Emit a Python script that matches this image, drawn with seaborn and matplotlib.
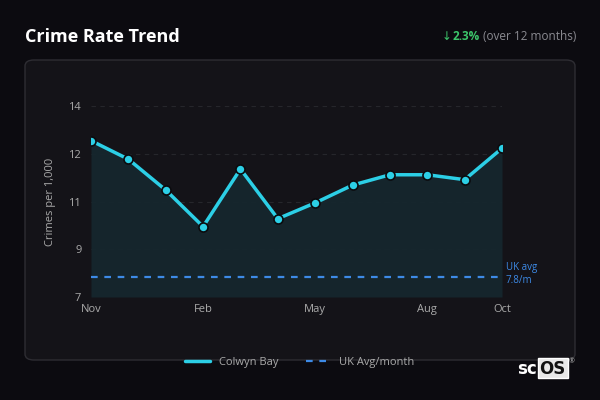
import numpy as np
import pandas as pd
import seaborn as sns
import matplotlib.pyplot as plt
from matplotlib.patches import FancyBboxPatch, Rectangle
from matplotlib.lines import Line2D

months = ["Nov", "Dec", "Jan", "Feb", "Mar", "Apr", "May", "Jun", "Jul", "Aug", "Sep", "Oct"]
colwyn_bay = [12.73, 12.05, 10.92, 9.58, 11.69, 9.87, 10.45, 11.10, 11.48, 11.48, 11.30, 12.45]
uk_avg = 7.75
tick_months = ["Nov", "Feb", "May", "Aug", "Oct"]
y_ticks = [7, 8.75, 10.5, 12.25, 14]

df = pd.DataFrame({"idx": range(len(months)), "month": months, "rate": colwyn_bay})

sns.set_style("dark")
plt.rcParams['font.family'] = ['Open Sans', 'DejaVu Sans']

bg = "#0c0b10"
panel = "#141318"
cyan = "#2ccfe6"
blue = "#3d8ae6"

fig = plt.figure(figsize=(6, 4), dpi=100, facecolor=bg)

# panel card
card = FancyBboxPatch((25 / 600, 40 / 400), 550 / 600, 300 / 400,
                      boxstyle="round,pad=0,rounding_size=0.015",
                      transform=fig.transFigure, facecolor=panel,
                      edgecolor="#2e2d33", linewidth=1, zorder=-5)
fig.patches.append(card)

ax = fig.add_axes([91 / 600, 103 / 400, 411 / 600, 191 / 400])
ax.set_facecolor("none")
ax.set_zorder(2)

ax.fill_between(df["idx"], df["rate"], 7, color="#16272e", alpha=0.95, zorder=1, linewidth=0)
sns.lineplot(data=df, x="idx", y="rate", ax=ax, color=cyan, linewidth=2.5,
             marker="o", markersize=6.5, markeredgecolor="#0b0b0e", markeredgewidth=1.2,
             zorder=3)
ax.axhline(uk_avg, color=blue, linestyle=(0, (3, 3)), linewidth=1.6, zorder=2)

ax.set_xlim(0, 11)
ax.set_ylim(7, 14)
ax.set_yticks(y_ticks)
ax.set_yticklabels([str(int(v + 0.5)) for v in y_ticks])
ax.set_xticks([months.index(m) for m in tick_months])
ax.set_xticklabels(tick_months)
ax.grid(axis="y", color="#26262b", linestyle=(0, (4, 4)), linewidth=0.8)
ax.grid(axis="x", visible=False)
ax.tick_params(axis="y", colors="#aaaaaa", labelsize=8, length=4, width=0.8, color="#888888", pad=3)
ax.tick_params(axis="x", colors="#aaaaaa", labelsize=8, length=0, pad=5)
for s in ax.spines.values():
    s.set_visible(False)
ax.set_xlabel("")
ax.set_ylabel("Crimes per 1,000", color="#aaaaaa", fontsize=8, labelpad=9)

ax.text(11.1, uk_avg + 0.1, "UK avg\n7.8/m", color=blue, fontsize=7, va="center", ha="left",
        linespacing=1.2)

# header
fig.text(25 / 600, 1 - 37 / 400, "Crime Rate Trend", color="white", fontsize=13,
         fontweight="bold", va="center", ha="left")
t1 = fig.text(576 / 600, 1 - 37 / 400, "(over 12 months)", color="#8a8a90", fontsize=8.5,
              va="center", ha="right")
fig.canvas.draw()
bb = t1.get_window_extent()
t2 = fig.text((bb.x0 - 3) / 600, 1 - 37 / 400, "2.3%", color="#3cc56a", fontsize=8.5,
              fontweight="bold", va="center", ha="right")
fig.canvas.draw()
bb2 = t2.get_window_extent()
fig.text((bb2.x0 - 1) / 600, 1 - 37 / 400, "↓", color="#3cc56a", fontsize=8.5,
         va="center", ha="right", family=["DejaVu Sans"])

# legend
handles = [Line2D([], [], color=cyan, linewidth=2.5),
           Line2D([], [], color=blue, linewidth=1.6, linestyle=(0, (3, 3)))]
fig.legend(handles, ["Colwyn Bay", "UK Avg/month"], loc="center", ncol=2,
           bbox_to_anchor=(300 / 600, 1 - 362 / 400), frameon=False, fontsize=8,
           labelcolor="#aaaaaa", handlelength=2.2, columnspacing=2.5)

# logo
fig.text(517 / 600, 1 - 369 / 400, "sc", color="white", fontsize=12, fontweight="bold",
         va="center", ha="left", family=["DejaVu Sans"])
fig.patches.append(Rectangle((538 / 600, 1 - 378 / 400), 30 / 600, 20 / 400,
                             transform=fig.transFigure, facecolor="#e8e8e8", zorder=1))
fig.text(539 / 600, 1 - 369 / 400, "OS", color="#111111", fontsize=12, fontweight="bold",
         va="center", ha="left", family=["DejaVu Sans"], zorder=2)
fig.text(569 / 600, 1 - 362 / 400, "®", color="#bbbbbb", fontsize=5, va="center", ha="left")

fig.savefig("out.png", dpi=100, facecolor=bg)
